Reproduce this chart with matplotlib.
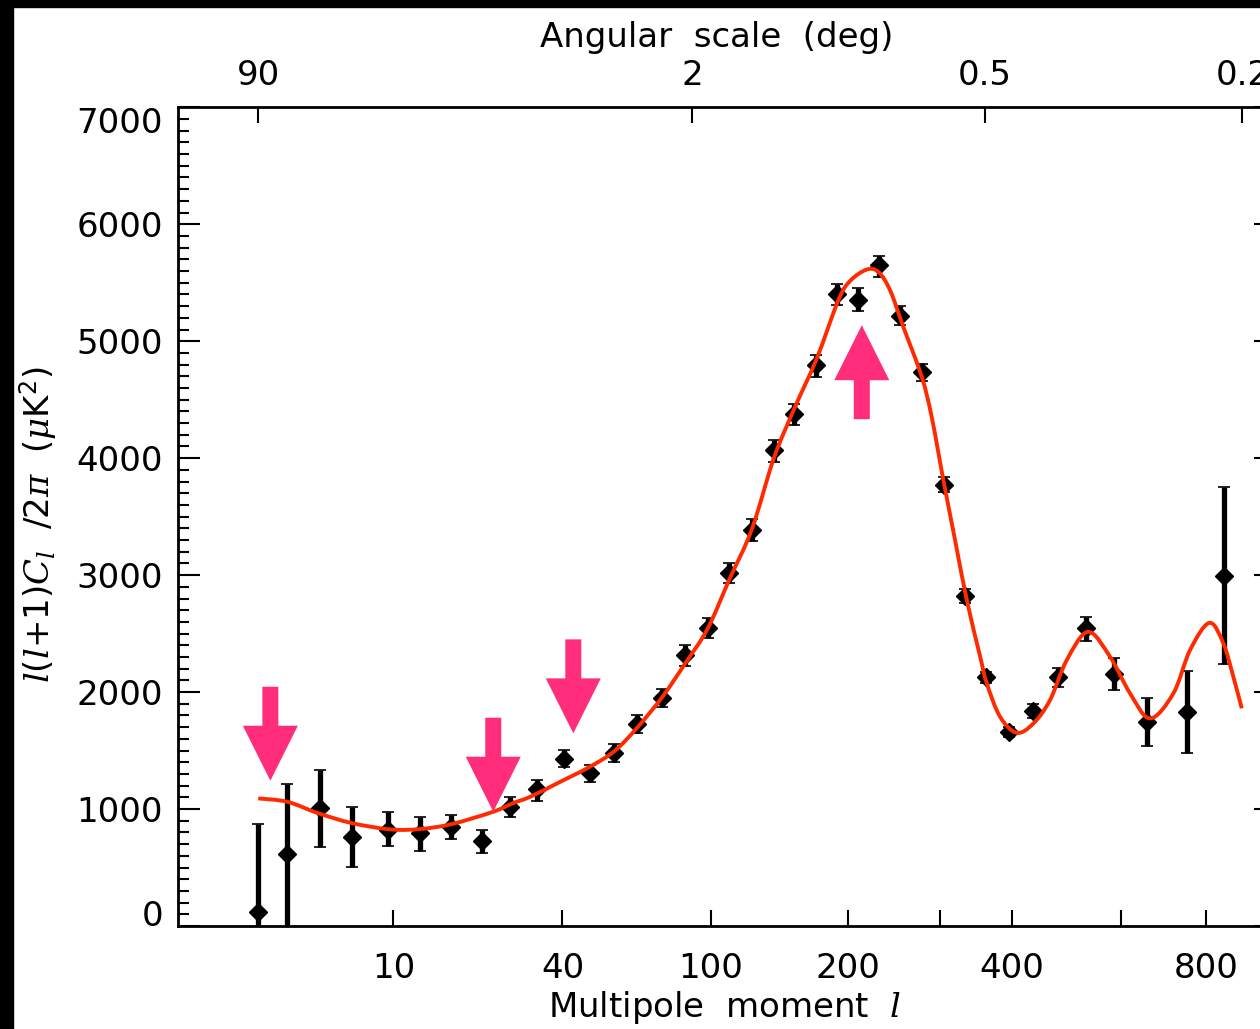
import numpy as np
import matplotlib
matplotlib.use("Agg")
import matplotlib.pyplot as plt
import matplotlib.transforms as mtransforms
from matplotlib.patches import Polygon, Rectangle, PathPatch
from matplotlib.path import Path

# binned temperature power spectrum, l(l+1)C_l/2pi in uK^2
ell = [2, 3, 4.5, 6.5, 9.5, 12.9, 17, 22, 27.4, 33.4, 40.3, 48.2, 56.5, 65.2,
       75.8, 86.5, 98.2, 110.5, 124.5, 139.4, 154.5, 172, 190, 209.5, 230,
       252.5, 277, 304, 331.6, 362, 396.5, 435, 478, 529, 586, 656, 753, 849]
power = [122, 615, 1006, 763, 820, 792, 844, 726, 1020, 1168, 1427, 1305,
         1481, 1726, 1946, 2316, 2550, 3020, 3385, 4068, 4376, 4795, 5402,
         5356, 5650, 5216, 4733, 3769, 2821, 2126, 1661, 1838, 2126, 2544,
         2157, 1746, 1832, 2994]
err_hi = [750, 596, 327, 257, 152, 142, 105, 94, 85, 80, 77, 71, 75, 74, 77,
          86, 80, 85, 91, 86, 91, 85, 91, 99, 79, 83, 70, 66, 57, 50, 42, 57,
          77, 94, 134, 200, 350, 756]
err_lo = [750, 700, 333, 261, 136, 148, 100, 100, 86, 97, 71, 74, 77, 79, 77,
          91, 91, 86, 94, 100, 94, 100, 94, 97, 100, 79, 72, 62, 63, 50, 43,
          63, 81, 106, 140, 208, 356, 757]

# best-fit model curve
model_ell = [2, 3, 4.4, 6.5, 9.7, 12.9, 17.1, 24.0, 28.0, 31.8, 39.4, 48.2,
             56.5, 65.2, 75.8, 86.5, 98.2, 110.5, 124.5, 139.4, 155.0, 172.3,
             190.9, 201.6, 217.7, 229.4, 241.6, 256.1, 277.3, 289.3, 303.8,
             318.9, 334.6, 353.0, 362.7, 382.3, 408.1, 435.0, 463.4, 493.2,
             533.2, 577.0, 619.2, 663.6, 718.3, 759.5, 809.4, 847.1, 874.7,
             898.6]
model_power = [1091, 1062, 966, 880, 826, 829, 872, 977, 1051, 1105, 1233,
               1362, 1496, 1698, 1960, 2245, 2544, 2963, 3393, 4000, 4438,
               4852, 5350, 5515, 5613, 5592, 5436, 5122, 4695, 4350, 3812,
               3299, 2786, 2308, 2074, 1789, 1652, 1732, 1932, 2274, 2515,
               2302, 1989, 1775, 1989, 2359, 2592, 2416, 2131, 1861]

# highlighted features: arrow tip (l, value) and direction (-1 down, +1 up)
arrow_ell = [2.38, 24.0, 43.1, 212.8]
arrow_power = [1242, 977, 1647, 5137]
arrow_dir = [-1, -1, -1, 1]

angle_ticks = [90, 2, 0.5, 0.2]
angle_labels = ['90', '2', '0.5', '0.2']
ell_ticks = [10, 40, 100, 200, 300, 400, 600, 800]
ell_labels = ['10', '40', '100', '200', '', '400', '', '800']

plt.rcParams['font.family'] = 'DejaVu Sans'
plt.rcParams['mathtext.fontset'] = 'custom'
plt.rcParams['mathtext.rm'] = 'DejaVu Sans'
plt.rcParams['mathtext.it'] = 'DejaVu Serif:italic'
fs = 24.5


def fwd(l):
    return np.power(np.clip(l, 0, None), 0.25)


def inv(u):
    return np.power(u, 4)


def smooth_path(xs, ys):
    # Catmull-Rom through the points in scaled x, emitted as cubic Beziers
    u = fwd(np.asarray(xs, float))
    v = np.asarray(ys, float)
    pu = np.concatenate([[u[0]], u, [u[-1]]])
    pv = np.concatenate([[v[0]], v, [v[-1]]])
    verts = [(u[0], v[0])]
    codes = [Path.MOVETO]
    for i in range(1, len(u)):
        c1 = (pu[i] + (pu[i + 1] - pu[i - 1]) / 6, pv[i] + (pv[i + 1] - pv[i - 1]) / 6)
        c2 = (pu[i + 1] - (pu[i + 2] - pu[i]) / 6, pv[i + 1] - (pv[i + 2] - pv[i]) / 6)
        verts += [c1, c2, (pu[i + 1], pv[i + 1])]
        codes += [Path.CURVE4] * 3
    verts = np.array(verts)
    verts[:, 0] = inv(verts[:, 0])
    return Path(verts, codes)


fig = plt.figure(figsize=(12.6, 10.29), dpi=100)
fig.patches.append(Rectangle((0, 0), 13 / 1260, 1, transform=fig.transFigure,
                             color='black', zorder=0))
fig.patches.append(Rectangle((0, 1 - 7 / 1029), 1, 7 / 1029,
                             transform=fig.transFigure, color='black', zorder=0))

ax = fig.add_axes([178.3 / 1260, 103 / 1029, 1097.5 / 1260, 818.7 / 1029])
ax.set_xscale('function', functions=(fwd, inv))
ax.set_xlim(0.5, 1000)
ax.set_ylim(0, 7000)

eb = ax.errorbar(ell, power, yerr=[err_lo, err_hi], fmt='D', color='black',
                 ms=8.8, elinewidth=3.8, capsize=4, capthick=1.2, zorder=3)
for cap in eb[1]:
    cap.set_color('#9a9a9a')

ax.add_patch(PathPatch(smooth_path(model_ell, model_power), fill=False,
                       edgecolor='#ff2a00', lw=2.8, capstyle='butt', zorder=4))

# block arrows, drawn in pixel units around their tips
shape = np.array([[0, 0], [-27.5, 55], [-8, 55], [-8, 94], [8, 94], [8, 55],
                  [27.5, 55]])
for l, p, d in zip(arrow_ell, arrow_power, arrow_dir):
    verts = shape * np.array([1, -d])
    tr = (mtransforms.Affine2D().scale(0.01) + fig.dpi_scale_trans +
          mtransforms.ScaledTranslation(l, p, ax.transData))
    ax.add_patch(Polygon(verts, closed=True, transform=tr, facecolor='#ff2d7b',
                         edgecolor='none', zorder=5, clip_on=False))

for s in ax.spines.values():
    s.set_linewidth(2.0)

ax.set_xticks(ell_ticks)
ax.set_xticklabels(ell_labels)
ax.xaxis.set_minor_locator(plt.NullLocator())
ax.tick_params(axis='x', which='major', direction='in', length=11.5, width=1.5,
               labelsize=fs, pad=19, top=False)

ax.set_yticks(range(0, 8000, 1000))
ax.set_yticks(range(0, 7100, 100), minor=True)
ax.tick_params(axis='y', which='major', direction='in', length=15.8, width=1.5,
               labelsize=fs, pad=11, left=True, right=True)
ax.tick_params(axis='y', which='minor', direction='in', length=8, width=1.5,
               left=True, right=True)
yt = ax.yaxis.get_major_ticks()
yt[0].label1.set_verticalalignment('baseline')
yt[-1].label1.set_verticalalignment('top')

ax.set_xlabel('Multipole  moment  $l$', fontsize=fs)
ax.xaxis.set_label_coords(0.498, -0.077)
ax.set_ylabel(r'$l(l{+}1)C_l\ \ /2\pi\ \ (\mu$K$^2)$', fontsize=fs)
ax.yaxis.set_label_coords(-0.108, 0.49)

# angular scale axis on top, theta = 180 / l
ax2 = ax.twiny()
ax2.set_xscale('function', functions=(fwd, inv))
ax2.set_xlim(ax.get_xlim())
ax2.set_xticks([180.0 / t for t in angle_ticks])
ax2.set_xticklabels(angle_labels)
ax2.xaxis.set_minor_locator(plt.NullLocator())
ax2.tick_params(axis='x', which='major', direction='in', length=11.5,
                width=1.5, labelsize=fs, pad=11)
ax2.set_xlabel('Angular  scale  (deg)', fontsize=fs)
ax2.xaxis.set_label_coords(0.491, 1.074)
for s in ax2.spines.values():
    s.set_visible(False)

fig.savefig('out.png', dpi=100, facecolor='white')
